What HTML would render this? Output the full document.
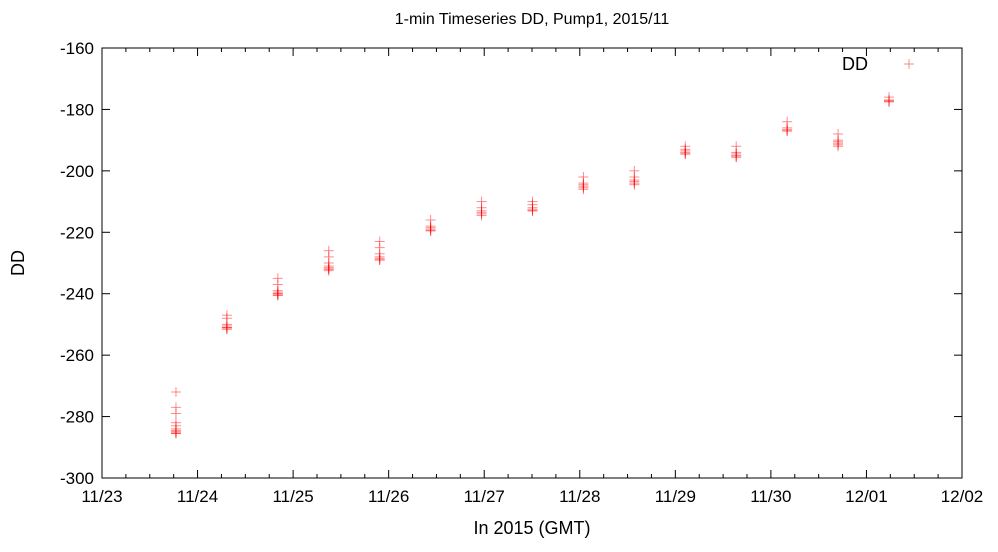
<!DOCTYPE html>
<html><head><meta charset="utf-8"><style>
body{margin:0;background:#fff}
svg{display:block;font-family:"Liberation Sans",sans-serif}
</style></head><body>
<svg id="chart" width="998" height="552" xmlns="http://www.w3.org/2000/svg">
<text x="532" y="24" font-size="16" text-anchor="middle">1-min Timeseries DD, Pump1, 2015/11</text>
<text x="532" y="534" font-size="18" text-anchor="middle">In 2015 (GMT)</text>
<text x="24" y="263" font-size="18" text-anchor="middle" transform="rotate(-90 24 263)">DD</text>
<g id="axes"></g>
<g id="marks"></g>
<text x="855" y="70" font-size="18" text-anchor="middle">DD</text>
<g stroke="rgba(255,0,0,0.45)" stroke-width="1"><line x1="904" y1="64" x2="914" y2="64"/><line x1="909" y1="59" x2="909" y2="69"/></g>
</svg>
<script>
const xTickLabels=["11/23","11/24","11/25","11/26","11/27","11/28","11/29","11/30","12/01","12/02"];
const yTicks=[-160,-180,-200,-220,-240,-260,-280,-300];
const clusterDays=[0.774,1.307,1.84,2.373,2.906,3.439,3.972,4.505,5.038,5.571,6.104,6.637,7.17,7.703,8.236];
const clusterValues=[
[-272,-277,-279,-282,-283,-284,-284.5,-285,-285,-285.5,-285.5],
[-247,-248,-250,-250.5,-251,-251,-251.5,-251.5],
[-235,-237,-239,-239.5,-240,-240,-240.5,-240.5],
[-226,-228,-230,-231,-231.5,-232,-232,-232.5],
[-223,-225,-227,-228,-228.5,-229,-229],
[-216,-218,-218.5,-219,-219.5,-219.5],
[-210,-212,-213,-213.5,-214,-214.5],
[-210,-211,-212,-212.5,-213,-213],
[-202,-204,-204.5,-205,-205.5,-206],
[-200,-202,-203,-203.5,-204,-204.5],
[-192,-193,-193.5,-194,-194.5,-194.5],
[-192,-194,-194.5,-195,-195.5,-195.5],
[-184,-186,-186.5,-187,-187],
[-188,-190,-190.5,-191,-191.5,-192],
[-176,-177,-177,-177.5,-177.5]
];
const L=102,R=962,T=48,B=478;
const xs=d=>L+d*(R-L)/9;
const ys=v=>T+(-160-v)*(B-T)/140;
const NS="http://www.w3.org/2000/svg";
function mk(tag,attrs,parent){const e=document.createElementNS(NS,tag);for(const k in attrs)e.setAttribute(k,attrs[k]);parent.appendChild(e);return e;}
const axes=document.getElementById('axes');
const frame=mk('rect',{x:L,y:T,width:R-L,height:B-T,fill:'none',stroke:'#000','stroke-width':1},axes);


yTicks.forEach(v=>{
 const y=ys(v);
 mk('line',{x1:L,y1:y,x2:L+8,y2:y,stroke:'#000'},axes);
 mk('line',{x1:R,y1:y,x2:R-8,y2:y,stroke:'#000'},axes);
 const t=mk('text',{x:L-8,y:y+6,'font-size':17,'text-anchor':'end'},axes);
 t.textContent=v;
 
 
});
for(let q=0;q<=36;q++){
 const x=xs(q/4),len=q%4==0?8:4;
 mk('line',{x1:x,y1:B,x2:x,y2:B-len,stroke:'#000'},axes);
 mk('line',{x1:x,y1:T,x2:x,y2:T+len,stroke:'#000'},axes);
}
xTickLabels.forEach((s,i)=>{
 const t=mk('text',{x:xs(i),y:B+24,'font-size':17,'text-anchor':'middle'},axes);
 t.textContent=s;
 
 
});
const marks=document.getElementById('marks');
clusterDays.forEach((d,i)=>{
 const x=xs(d);
 clusterValues[i].forEach(v=>{
  const y=ys(v);
  const g=mk('g',{stroke:'rgba(255,0,0,0.45)','stroke-width':1},marks);
  
  
  mk('line',{x1:x-5,y1:y,x2:x+5,y2:y},g);
  mk('line',{x1:x,y1:y-5,x2:x,y2:y+5},g);
 });
});
</script>
</body></html>
